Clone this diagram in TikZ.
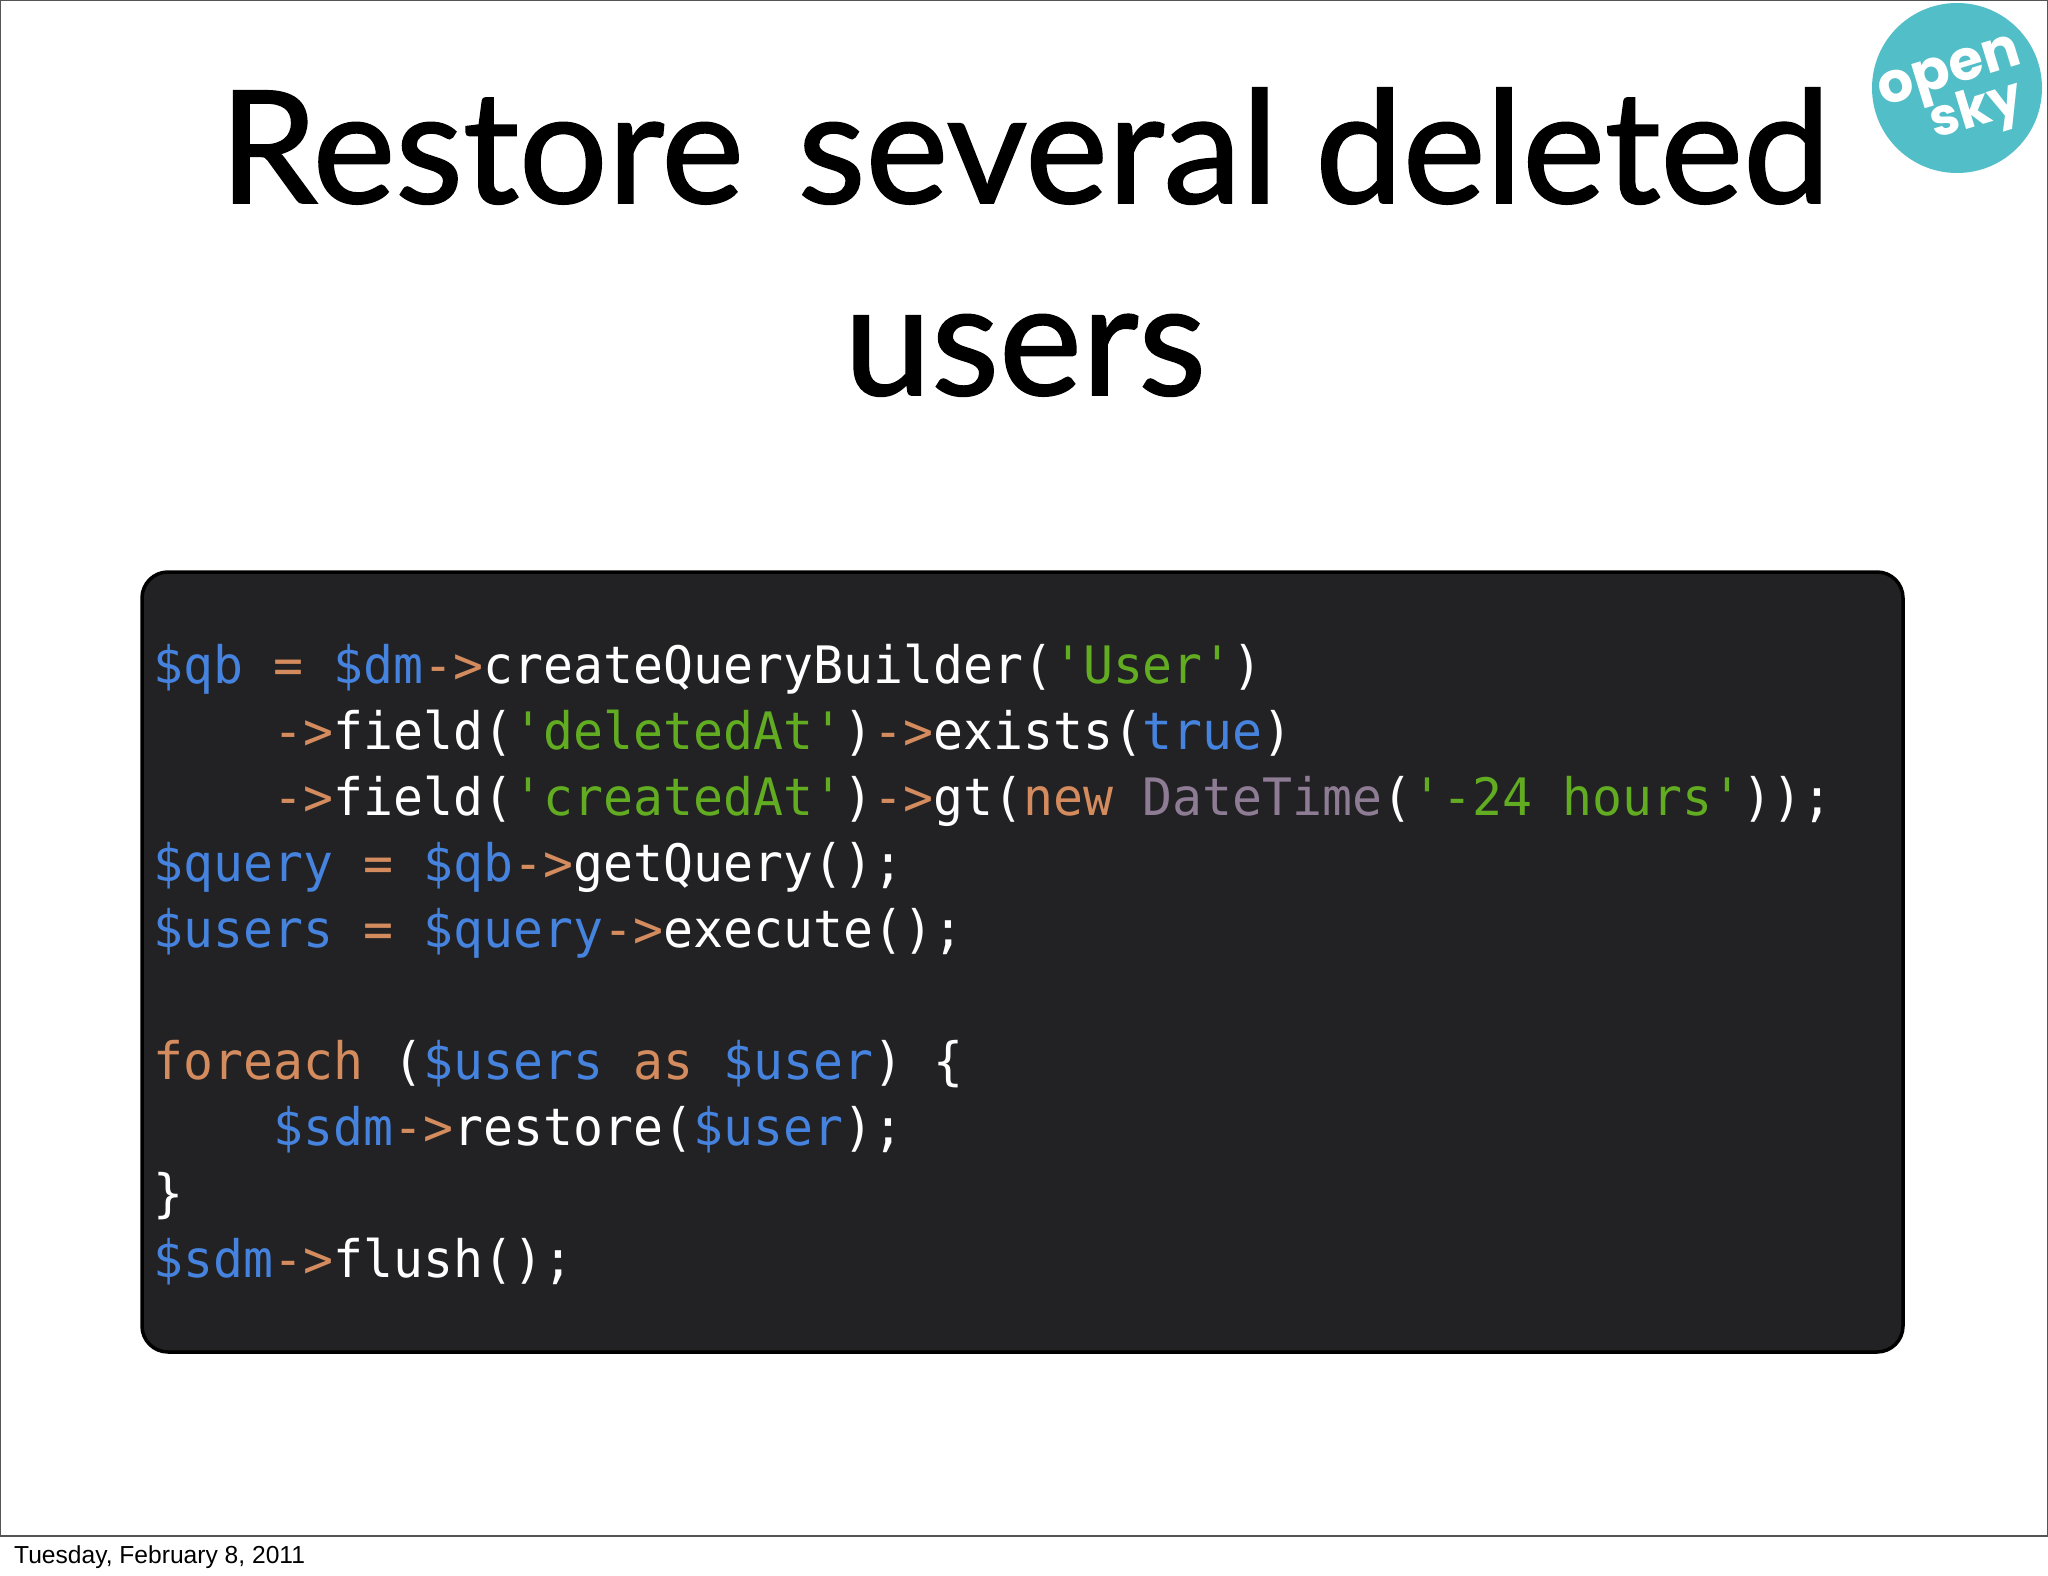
\documentclass[tikz,border=0pt]{standalone}
\usepackage{fontspec}
\setmainfont[FakeBold=1.2]{Lato}
\newfontfamily\codefont[FakeStretch=0.965]{DejaVu Sans Mono}
\newfontfamily\footfont{Liberation Sans}
\newfontfamily\logofont{Poppins}
\definecolor{cb}{HTML}{4583DE}
\definecolor{co}{HTML}{D48C5E}
\definecolor{cg}{HTML}{62AC22}
\definecolor{cp}{HTML}{8E7C95}
\definecolor{codebg}{HTML}{222224}
\definecolor{frame}{HTML}{555558}
\definecolor{teal}{HTML}{52BEC7}
\newcommand{\B}[1]{\textcolor{cb}{#1}}
\newcommand{\Or}[1]{\textcolor{co}{#1}}
\newcommand{\G}[1]{\textcolor{cg}{#1}}
\newcommand{\Pu}[1]{\textcolor{cp}{#1}}
\tikzset{
  codeline/.style={anchor=base west,inner sep=0pt,text=white,font=\codefont\fontsize{51.6}{60}\selectfont},
  titleline/.style={anchor=base,inner sep=0pt,font=\fontsize{156.5}{180}\selectfont},
  logotext/.style={inner sep=0pt,text=white,rotate=17,font=\logofont\bfseries\fontsize{56}{60}\selectfont},
}
\begin{document}
\begin{tikzpicture}[x=1pt,y=-1pt]
\useasboundingbox (0,0) rectangle (2048,1576);
\fill[white] (0,0) rectangle (2048,1576);
\draw[frame,line width=1.6pt] (0.5,0.5) rectangle (2047.5,1536);
\node[titleline] (t1) at (1025,203) {Restore\hspace{14pt} several\hspace{-3pt} deleted};
\node[titleline] (t2) at (1025,395) {users};
\fill[teal] (1957,88) circle (85);
\node[logotext] (l1) at (1951,77) {open};
\node[logotext,font=\logofont\bfseries\fontsize{52}{60}\selectfont] (l2) at (1977,113) {sky};
\draw[black,fill=codebg,line width=3.5pt,rounded corners=26pt] (142,572) rectangle (1903,1352);
\node[codeline] (c1) at (153.5,683) {\B{\$qb} \Or{=} \B{\$dm}\Or{->}createQueryBuilder(\G{'User'})};
\node[codeline] (c2) at (153.5,749) {\phantom{xxxx}\Or{->}field(\G{'deletedAt'})\Or{->}exists(\B{true})};
\node[codeline] (c3) at (153.5,815) {\phantom{xxxx}\Or{->}field(\G{'createdAt'})\Or{->}gt(\Or{new} \Pu{DateTime}(\G{'-24 hours'}));};
\node[codeline] (c4) at (153.5,881) {\B{\$query} \Or{=} \B{\$qb}\Or{->}getQuery();};
\node[codeline] (c5) at (153.5,947) {\B{\$users} \Or{=} \B{\$query}\Or{->}execute();};
\node[codeline] (c6) at (153.5,1079) {\Or{foreach} (\B{\$users} \Or{as} \B{\$user}) \{};
\node[codeline] (c7) at (153.5,1145) {\phantom{xxxx}\B{\$sdm}\Or{->}restore(\B{\$user});};
\node[codeline] (c8) at (153.5,1211) {\}};
\node[codeline] (c9) at (153.5,1277) {\B{\$sdm}\Or{->}flush();};
\node[anchor=base west,inner sep=0pt,font=\footfont\fontsize{24.6}{28}\selectfont] (foot) at (14,1563) {Tuesday, February 8, 2011};
\end{tikzpicture}
\end{document}
